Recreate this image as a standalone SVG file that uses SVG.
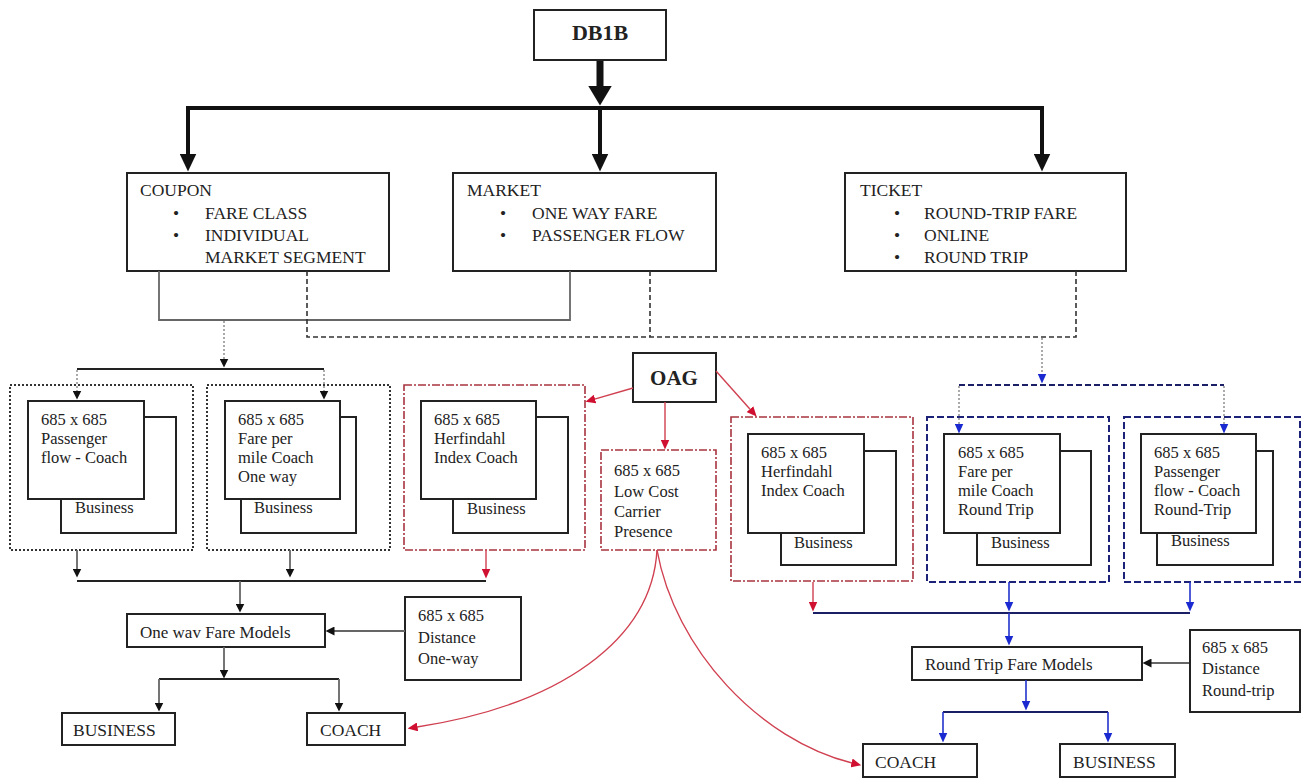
<svg xmlns="http://www.w3.org/2000/svg" width="1302" height="778" viewBox="0 0 1302 778">
<defs>
<style>
text { font-family: "Liberation Serif", "Times New Roman", serif; fill: #222; }
.t17 { font-size: 17.5px; }
.t16 { font-size: 16.5px; }
.tb { font-size: 22px; font-weight: bold; text-anchor: middle; }
.box { fill: #fff; stroke: #222; stroke-width: 2; }
.dotbox { fill: none; stroke: #333; stroke-width: 2; stroke-dasharray: 2 2; }
.redbox { fill: none; stroke: #a8343f; stroke-width: 1.6; stroke-dasharray: 8 2 2 2; }
.bluebox { fill: none; stroke: #1c2278; stroke-width: 2; stroke-dasharray: 7 3; }
.c-thick { fill: none; stroke: #111; stroke-width: 4; }
.c-black { fill: none; stroke: #222; stroke-width: 1.8; }
.c-gray { fill: none; stroke: #666; stroke-width: 1.8; }
.c-dot { fill: none; stroke: #aaa; stroke-width: 2; stroke-dasharray: 2 2; }
.c-dash { fill: none; stroke: #333; stroke-width: 1.6; stroke-dasharray: 5 3; }
.c-red { fill: none; stroke: #d04050; stroke-width: 1.4; }
.c-blue { fill: none; stroke: #2233cc; stroke-width: 1.6; }
.c-navy { fill: none; stroke: #1a1f66; stroke-width: 1.8; }
.c-navydash { fill: none; stroke: #1a1f66; stroke-width: 1.8; stroke-dasharray: 6 3; }
</style>
<marker id="mBig" viewBox="0 0 20 24" refX="0.5" refY="12" markerWidth="20" markerHeight="24" markerUnits="userSpaceOnUse" orient="auto" preserveAspectRatio="none"><path d="M0,0 L20,12 L0,24 z" fill="#111"/></marker>
<marker id="mMed" viewBox="0 0 18 17" refX="0.5" refY="8.5" markerWidth="18" markerHeight="17" markerUnits="userSpaceOnUse" orient="auto" preserveAspectRatio="none"><path d="M0,0 L18,8.5 L0,17 z" fill="#111"/></marker>
<marker id="mBlk" viewBox="0 0 9 9" refX="0.5" refY="4.5" markerWidth="9" markerHeight="9" markerUnits="userSpaceOnUse" orient="auto" preserveAspectRatio="none"><path d="M0,0 L9,4.5 L0,9 z" fill="#111"/></marker>
<marker id="mRed" viewBox="0 0 10 9" refX="0.5" refY="4.5" markerWidth="10" markerHeight="9" markerUnits="userSpaceOnUse" orient="auto" preserveAspectRatio="none"><path d="M0,0 L10,4.5 L0,9 z" fill="#d01030"/></marker>
<marker id="mBlue" viewBox="0 0 10 9" refX="0.5" refY="4.5" markerWidth="10" markerHeight="9" markerUnits="userSpaceOnUse" orient="auto" preserveAspectRatio="none"><path d="M0,0 L10,4.5 L0,9 z" fill="#1a2ad0"/></marker>
</defs>
<rect width="1302" height="778" fill="#fff"/>

<g id="db1b"><rect class="box" x="534" y="10" width="132" height="50"/><text class="tb" x="600" y="40">DB1B</text></g>

<g id="coupon"><rect class="box" x="127" y="173" width="262" height="98"/>
<text class="t17" x="140" y="196">COUPON</text>
<text class="t17" x="176" y="219" text-anchor="middle">•</text><text class="t17" x="205" y="219">FARE CLASS</text>
<text class="t17" x="176" y="241" text-anchor="middle">•</text><text class="t17" x="205" y="241">INDIVIDUAL</text>
<text class="t17" x="205" y="263">MARKET SEGMENT</text></g>

<g id="market"><rect class="box" x="453" y="173" width="263" height="98"/>
<text class="t17" x="467" y="196">MARKET</text>
<text class="t17" x="503" y="219" text-anchor="middle">•</text><text class="t17" x="532" y="219">ONE WAY FARE</text>
<text class="t17" x="503" y="241" text-anchor="middle">•</text><text class="t17" x="532" y="241">PASSENGER FLOW</text></g>

<g id="ticket"><rect class="box" x="845" y="173" width="281" height="98"/>
<text class="t17" x="860" y="196">TICKET</text>
<text class="t17" x="897" y="219" text-anchor="middle">•</text><text class="t17" x="924" y="219">ROUND-TRIP FARE</text>
<text class="t17" x="897" y="241" text-anchor="middle">•</text><text class="t17" x="924" y="241">ONLINE</text>
<text class="t17" x="897" y="263" text-anchor="middle">•</text><text class="t17" x="924" y="263">ROUND TRIP</text></g>

<g id="oag"><rect class="box" x="633" y="353" width="83" height="49"/><text class="tb" style="font-size:21px" x="674" y="385">OAG</text></g>

<g id="pf-coach"><rect class="dotbox" x="10" y="385" width="183" height="165"/>
<rect class="box" x="61" y="417" width="115" height="116"/><rect class="box" x="28" y="401" width="116" height="98"/>
<text class="t16" x="41" y="425">685 x 685</text><text class="t16" x="41" y="444">Passenger</text><text class="t16" x="41" y="463">flow - Coach</text>
<text class="t16" x="75" y="513">Business</text></g>

<g id="fpm-oneway"><rect class="dotbox" x="207" y="385" width="183" height="165"/>
<rect class="box" x="241" y="417" width="115" height="116"/><rect class="box" x="225" y="401" width="115" height="98"/>
<text class="t16" x="238" y="425">685 x 685</text><text class="t16" x="238" y="444">Fare per</text><text class="t16" x="238" y="463">mile Coach</text><text class="t16" x="238" y="482">One way</text>
<text class="t16" x="254" y="513">Business</text></g>

<g id="herf-left"><rect class="redbox" x="404" y="385" width="181" height="165"/>
<rect class="box" x="453" y="417" width="115" height="116"/><rect class="box" x="421" y="401" width="115" height="98"/>
<text class="t16" x="434" y="425">685 x 685</text><text class="t16" x="434" y="444">Herfindahl</text><text class="t16" x="434" y="463">Index Coach</text>
<text class="t16" x="467" y="514">Business</text></g>

<g id="lowcost"><rect class="redbox" x="601" y="450" width="115" height="100"/>
<text class="t16" x="614" y="476">685 x 685</text><text class="t16" x="614" y="497">Low Cost</text><text class="t16" x="614" y="517">Carrier</text><text class="t16" x="614" y="537">Presence</text></g>

<g id="herf-right"><rect class="redbox" x="731" y="417" width="182" height="164"/>
<rect class="box" x="781" y="451" width="115" height="114"/><rect class="box" x="748" y="434" width="116" height="99"/>
<text class="t16" x="761" y="458">685 x 685</text><text class="t16" x="761" y="477">Herfindahl</text><text class="t16" x="761" y="496">Index Coach</text>
<text class="t16" x="794" y="548">Business</text></g>

<g id="fpm-rt"><rect class="bluebox" x="927" y="417" width="182" height="165"/>
<rect class="box" x="977" y="451" width="114" height="114"/><rect class="box" x="944" y="434" width="116" height="99"/>
<text class="t16" x="958" y="458">685 x 685</text><text class="t16" x="958" y="477">Fare per</text><text class="t16" x="958" y="496">mile Coach</text><text class="t16" x="958" y="515">Round Trip</text>
<text class="t16" x="991" y="548">Business</text></g>

<g id="pf-rt"><rect class="bluebox" x="1124" y="417" width="176" height="165"/>
<rect class="box" x="1157" y="451" width="116" height="114"/><rect class="box" x="1141" y="434" width="115" height="99"/>
<text class="t16" x="1154" y="458">685 x 685</text><text class="t16" x="1154" y="477">Passenger</text><text class="t16" x="1154" y="496">flow - Coach</text><text class="t16" x="1154" y="515">Round-Trip</text>
<text class="t16" x="1171" y="546">Business</text></g>

<g id="oneway-models"><rect class="box" x="127" y="614" width="198" height="33"/><text class="t17" style="font-size:17px" x="140" y="638">One wav Fare Models</text></g>
<g id="dist-oneway"><rect class="box" x="405" y="597" width="116" height="83"/>
<text class="t16" x="418" y="621">685 x 685</text><text class="t16" x="418" y="643">Distance</text><text class="t16" x="418" y="664">One-way</text></g>
<g id="business-left"><rect class="box" x="62" y="713" width="113" height="32"/><text class="t17" x="73" y="736">BUSINESS</text></g>
<g id="coach-left"><rect class="box" x="307" y="713" width="98" height="32"/><text class="t17" x="320" y="736">COACH</text></g>

<g id="rt-models"><rect class="box" x="912" y="647" width="230" height="33"/><text class="t17" style="font-size:17px" x="925" y="670">Round Trip Fare Models</text></g>
<g id="dist-rt"><rect class="box" x="1190" y="630" width="110" height="82"/>
<text class="t16" x="1202" y="653">685 x 685</text><text class="t16" x="1202" y="674">Distance</text><text class="t16" x="1202" y="696">Round-trip</text></g>
<g id="coach-right"><rect class="box" x="863" y="744" width="114" height="33"/><text class="t17" x="875" y="768">COACH</text></g>
<g id="business-right"><rect class="box" x="1060" y="744" width="115" height="33"/><text class="t17" x="1073" y="768">BUSINESS</text></g>

<g id="connectors">
<path d="M600 61 V86" fill="none" stroke="#111" stroke-width="7" marker-end="url(#mBig)"/>
<path class="c-thick" d="M188 108 H1042" stroke-linecap="square"/>
<path class="c-thick" d="M188 108 V154" marker-end="url(#mMed)"/>
<path class="c-thick" d="M600 108 V154" marker-end="url(#mMed)"/>
<path class="c-thick" d="M1042 108 V154" marker-end="url(#mMed)"/>

<path class="c-gray" d="M159 271 V320 H570 V271"/>
<path class="c-dash" d="M307 271 V337 H1076 V271"/>
<path class="c-dash" d="M650 271 V337"/>

<path class="c-dot" d="M224 321 V359" marker-end="url(#mBlk)"/>
<path class="c-black" d="M77 369 H324"/>
<path class="c-dot" d="M77 370 V391" marker-end="url(#mBlk)"/>
<path class="c-dot" d="M324 370 V391" marker-end="url(#mBlk)"/>

<path class="c-dot" d="M1042 338 V374" marker-end="url(#mBlue)"/>
<path class="c-navydash" d="M959 385 H1224"/>
<path class="c-dot" d="M959 386 V424" marker-end="url(#mBlue)"/>
<path class="c-dot" d="M1224 386 V424" marker-end="url(#mBlue)"/>

<path class="c-red" d="M633 388 L594.6 399.2" marker-end="url(#mRed)"/>
<path class="c-red" d="M665 402 V440" marker-end="url(#mRed)"/>
<path class="c-red" d="M716 371 L750.3 409.5" marker-end="url(#mRed)"/>

<path class="c-gray" d="M77 550 V569" marker-end="url(#mBlk)"/>
<path class="c-gray" d="M290 550 V569" marker-end="url(#mBlk)"/>
<path class="c-red" d="M486 550 V569" marker-end="url(#mRed)"/>
<path class="c-black" d="M77 581 H486"/>
<path class="c-gray" d="M240 581 V604" marker-end="url(#mBlk)"/>
<path class="c-gray" d="M405 631 H334" marker-end="url(#mBlk)"/>
<path class="c-gray" d="M224 647 V670" marker-end="url(#mBlk)"/>
<path class="c-black" d="M159 679 H339"/>
<path class="c-gray" d="M159 679 V703" marker-end="url(#mBlk)"/>
<path class="c-gray" d="M339 679 V703" marker-end="url(#mBlk)"/>

<path class="c-red" d="M813 582 V602" marker-end="url(#mRed)"/>
<path class="c-blue" d="M1009 582 V602" marker-end="url(#mBlue)"/>
<path class="c-blue" d="M1190 582 V602" marker-end="url(#mBlue)"/>
<path class="c-navy" d="M813 613 H1190"/>
<path class="c-blue" d="M1009 613 V636" marker-end="url(#mBlue)"/>
<path class="c-gray" d="M1189 663 H1151" marker-end="url(#mBlk)"/>
<path class="c-blue" d="M1026 680 V701" marker-end="url(#mBlue)"/>
<path class="c-navy" d="M943 712 H1108"/>
<path class="c-blue" d="M943 712 V733" marker-end="url(#mBlue)"/>
<path class="c-blue" d="M1108 712 V733" marker-end="url(#mBlue)"/>

<path class="c-red" d="M657 550 C652 640 560 705 417 727" marker-end="url(#mRed)"/>
<path class="c-red" d="M657 550 C675 650 760 740 852 763" marker-end="url(#mRed)"/>
</g>
</svg>
